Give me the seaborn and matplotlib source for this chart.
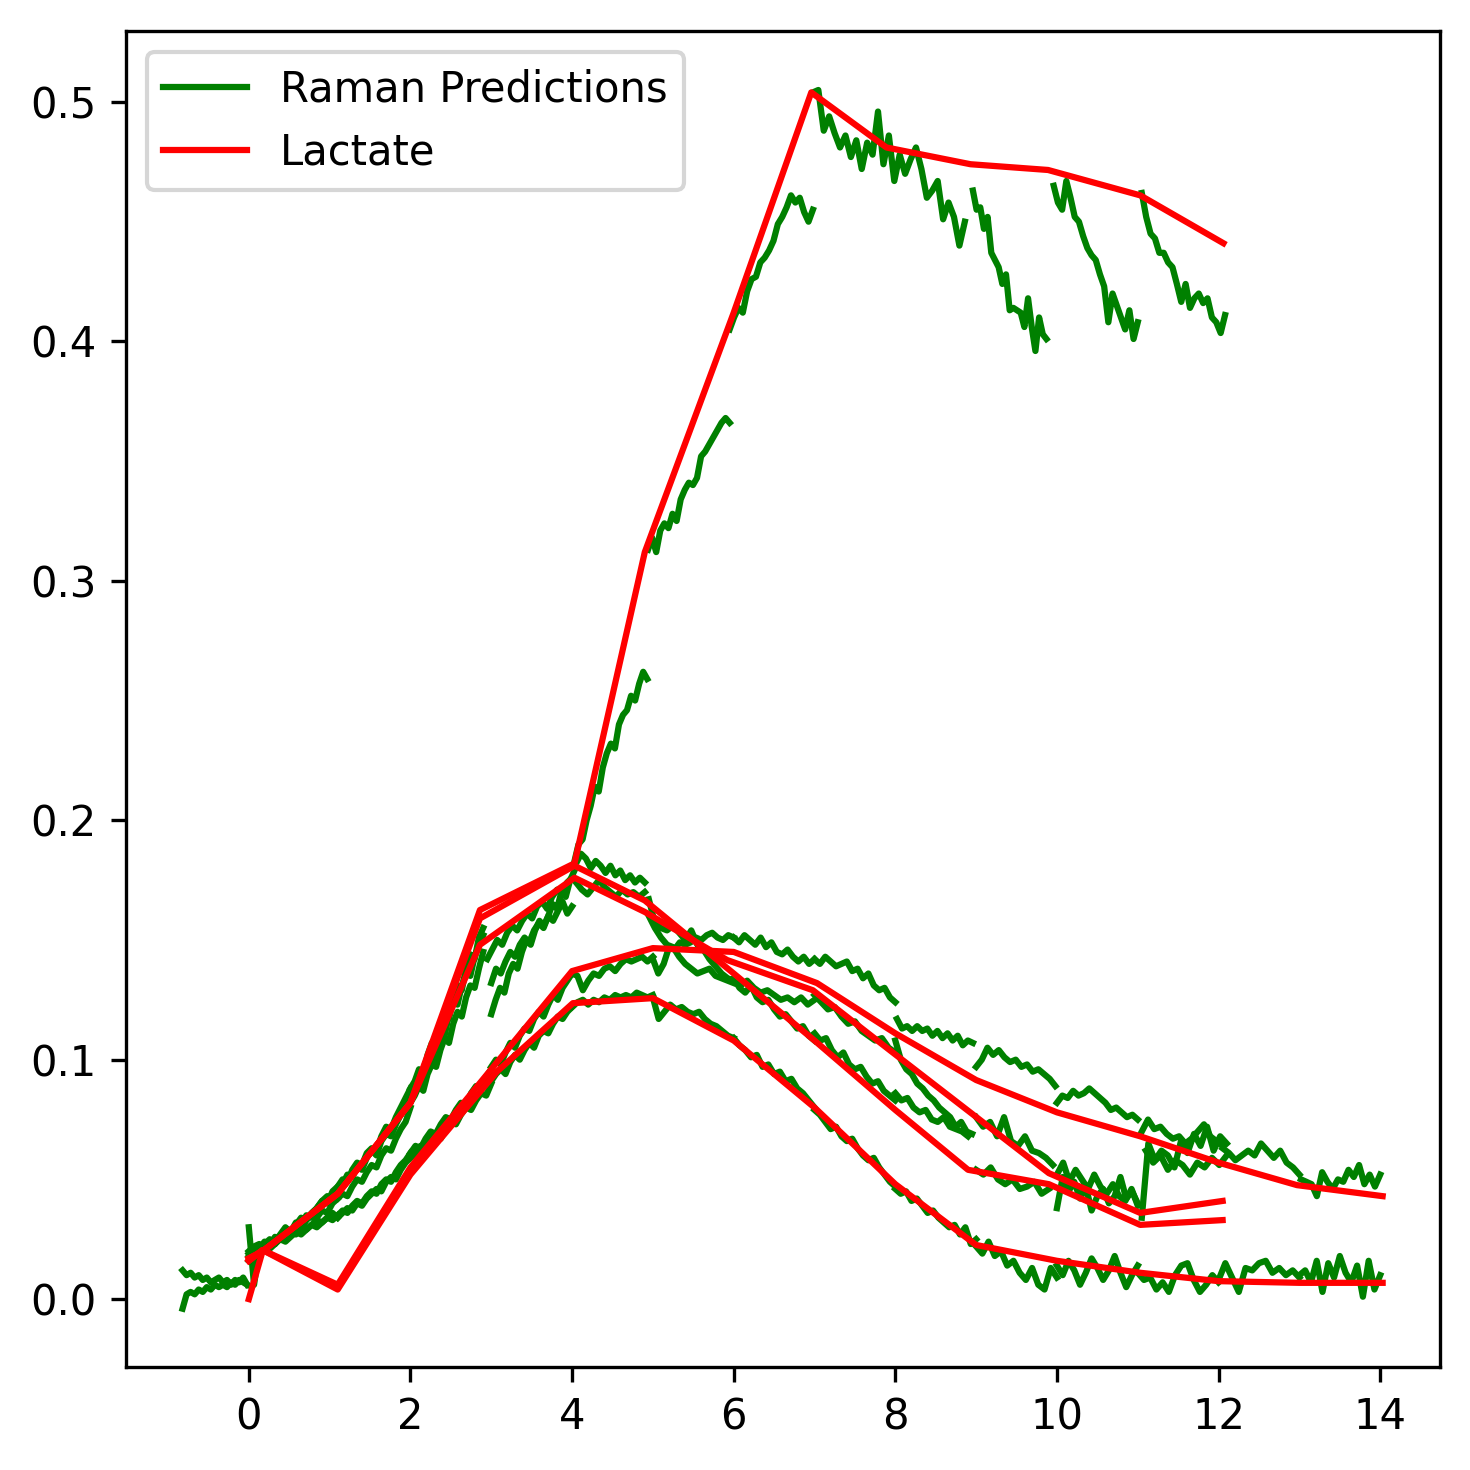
import numpy as np
import pandas as pd
import matplotlib
matplotlib.use('Agg')
import matplotlib.pyplot as plt
import seaborn as sns
from matplotlib.lines import Line2D

# ---- offline lactate (red), one line per batch ----
lac_a_t = [0, 0.17, 1.1, 2.0, 2.86, 4.03, 4.9, 6.0, 6.96, 7.89, 8.93, 9.89, 11.03, 12.06]
lac_a = [0.0, 0.02, 0.044, 0.082, 0.1625, 0.182, 0.312, 0.412, 0.504, 0.481, 0.474, 0.4716, 0.461, 0.441]
lac_b_t = [0, 0.17, 1.1, 2.0, 2.86, 4.03, 4.9, 6.0, 7.0, 8.0, 8.9, 9.9, 11.03, 12.05]
lac_b = [0.017, 0.02, 0.044, 0.082, 0.159, 0.181, 0.1665, 0.136, 0.108, 0.079, 0.054, 0.048, 0.031, 0.033]
lac_c_t = [0, 0.17, 1.1, 2.0, 2.86, 4.03, 4.9, 5.92, 6.98, 7.93, 9.9, 11.03, 12.05]
lac_c = [0.017, 0.02, 0.044, 0.082, 0.148, 0.176, 0.1617, 0.1416, 0.129, 0.104, 0.0526, 0.036, 0.041]
lac_d_t = [0, 0.17, 1.1, 2.0, 4.0, 5.0, 6.0, 7.03, 8.0, 9.0, 10.0, 11.03, 12.0, 12.97, 14.03]
lac_d = [0.016, 0.0205, 0.006, 0.055, 0.137, 0.1466, 0.145, 0.132, 0.111, 0.0915, 0.078, 0.068, 0.057, 0.0476, 0.043]
lac_e_t = [0, 0.17, 1.1, 2.0, 3.07, 4.01, 5.0, 6.0, 7.0, 8.0, 9.0, 10.0, 11.03, 12.0, 13.0, 14.03]
lac_e = [0.016, 0.0205, 0.004, 0.052, 0.095, 0.1236, 0.1257, 0.108, 0.080, 0.048, 0.0226, 0.016, 0.011, 0.0075, 0.0068, 0.0068]

# ---- raman predictions (green): (start day, end day, values) per window ----
raman_pre = [
    (-0.82, -0.02, [0.012, 0.010, 0.011, 0.009, 0.010, 0.008, 0.009, 0.007, 0.008, 0.009, 0.007, 0.008, 0.006, 0.008, 0.007, 0.009, 0.006]),
    (-0.82, -0.02, [-0.004, 0.002, 0.003, 0.002, 0.004, 0.003, 0.005, 0.004, 0.006, 0.005, 0.006, 0.005, 0.007, 0.006, 0.008, 0.007, 0.006]),
]
raman_a = [
    (0.0, 1.1, [0.030, 0.006, 0.021, 0.024, 0.022, 0.026, 0.025, 0.029, 0.028, 0.032, 0.031, 0.035, 0.034, 0.038, 0.041, 0.040, 0.045, 0.047]),
    (1.1, 2.0, [0.047, 0.050, 0.049, 0.054, 0.057, 0.056, 0.061, 0.063, 0.062, 0.068, 0.072, 0.071, 0.076, 0.080, 0.084, 0.088]),
    (2.0, 2.9, [0.088, 0.091, 0.096, 0.094, 0.102, 0.107, 0.105, 0.113, 0.119, 0.117, 0.125, 0.131, 0.129, 0.138, 0.144, 0.142, 0.151, 0.155]),
    (2.95, 4.0, [0.142, 0.146, 0.150, 0.148, 0.153, 0.156, 0.154, 0.158, 0.161, 0.159, 0.164, 0.166, 0.163, 0.168, 0.171, 0.169, 0.174, 0.176]),
    (4.03, 4.93, [0.183, 0.190, 0.192, 0.200, 0.206, 0.214, 0.212, 0.222, 0.228, 0.232, 0.230, 0.240, 0.244, 0.246, 0.252, 0.250, 0.257, 0.262, 0.259]),
    (4.94, 5.95, [0.313, 0.318, 0.312, 0.321, 0.324, 0.322, 0.328, 0.325, 0.334, 0.338, 0.341, 0.340, 0.343, 0.352, 0.354, 0.357, 0.360, 0.363, 0.366, 0.368, 0.366]),
    (5.95, 6.98, [0.405, 0.410, 0.414, 0.412, 0.421, 0.426, 0.427, 0.433, 0.435, 0.438, 0.442, 0.449, 0.452, 0.456, 0.461, 0.458, 0.460, 0.454, 0.450, 0.455]),
    (6.98, 8.86, [0.504, 0.505, 0.488, 0.494, 0.487, 0.481, 0.486, 0.477, 0.484, 0.472, 0.483, 0.478, 0.496, 0.474, 0.486, 0.467,
                  0.478, 0.470, 0.476, 0.481, 0.472, 0.460, 0.463, 0.467, 0.451, 0.458, 0.452, 0.440, 0.450]),
    (8.96, 9.87, [0.463, 0.455, 0.456, 0.447, 0.452, 0.437, 0.434, 0.431, 0.424, 0.428, 0.413, 0.414, 0.413, 0.412, 0.406, 0.418,
                  0.406, 0.396, 0.410, 0.403, 0.401]),
    (9.96, 11.0, [0.465, 0.458, 0.455, 0.467, 0.460, 0.452, 0.450, 0.444, 0.439, 0.436, 0.434, 0.428, 0.423, 0.408, 0.420, 0.415,
                  0.410, 0.405, 0.413, 0.401, 0.408]),
    (11.05, 12.08, [0.462, 0.452, 0.445, 0.443, 0.437, 0.437, 0.433, 0.431, 0.424, 0.4165, 0.424, 0.414, 0.418, 0.420, 0.416, 0.418,
                    0.410, 0.408, 0.4035, 0.411]),
]
raman_b = [
    (0.0, 1.1, [0.018, 0.021, 0.020, 0.023, 0.025, 0.024, 0.027, 0.030, 0.028, 0.031, 0.034, 0.033, 0.036, 0.038, 0.041, 0.043, 0.042, 0.046]),
    (1.1, 2.0, [0.045, 0.048, 0.052, 0.051, 0.055, 0.054, 0.059, 0.062, 0.060, 0.066, 0.069, 0.068, 0.073, 0.077, 0.080, 0.085]),
    (2.0, 2.9, [0.086, 0.090, 0.088, 0.096, 0.101, 0.099, 0.107, 0.112, 0.110, 0.119, 0.124, 0.123, 0.131, 0.136, 0.135, 0.143, 0.148, 0.152]),
    (3.0, 4.03, [0.119, 0.125, 0.130, 0.128, 0.136, 0.140, 0.138, 0.145, 0.150, 0.148, 0.154, 0.158, 0.156, 0.160, 0.165, 0.163,
                 0.170, 0.168, 0.175, 0.179]),
    (4.05, 4.9, [0.182, 0.186, 0.184, 0.180, 0.183, 0.181, 0.178, 0.181, 0.177, 0.179, 0.175, 0.177, 0.174, 0.176, 0.174]),
    (4.95, 6.0, [0.167, 0.157, 0.155, 0.154, 0.156, 0.153, 0.150, 0.154, 0.148, 0.146, 0.142, 0.139, 0.136, 0.134, 0.133]),
    (6.0, 7.0, [0.134, 0.130, 0.128, 0.131, 0.126, 0.124, 0.125, 0.121, 0.118, 0.119, 0.116, 0.113, 0.114, 0.110, 0.108]),
    (7.0, 8.0, [0.111, 0.108, 0.109, 0.104, 0.101, 0.103, 0.098, 0.096, 0.097, 0.093, 0.090, 0.091, 0.087, 0.085, 0.083]),
    (8.0, 8.9, [0.086, 0.083, 0.084, 0.080, 0.078, 0.079, 0.075, 0.074, 0.076, 0.072, 0.071, 0.070, 0.068]),
    (9.0, 9.9, [0.054, 0.052, 0.055, 0.050, 0.048, 0.050, 0.046, 0.047, 0.049, 0.044, 0.046]),
    (10.0, 11.0, [0.038, 0.051, 0.045, 0.049, 0.042, 0.047, 0.037, 0.043, 0.046, 0.040, 0.043, 0.051, 0.042, 0.045, 0.040]),
    (11.05, 12.1, [0.034, 0.065, 0.058, 0.062, 0.060, 0.055, 0.066, 0.061, 0.069, 0.064, 0.072, 0.062, 0.068, 0.065]),
]
raman_c = [
    (0.0, 1.1, [0.016, 0.019, 0.022, 0.021, 0.024, 0.023, 0.026, 0.028, 0.027, 0.030, 0.029, 0.033, 0.035, 0.034, 0.037, 0.036, 0.040, 0.042]),
    (1.1, 2.0, [0.042, 0.044, 0.043, 0.047, 0.050, 0.049, 0.053, 0.056, 0.055, 0.060, 0.063, 0.062, 0.067, 0.071, 0.074, 0.080]),
    (2.0, 2.9, [0.082, 0.085, 0.089, 0.087, 0.094, 0.098, 0.097, 0.104, 0.109, 0.107, 0.115, 0.120, 0.118, 0.126, 0.131, 0.130, 0.138, 0.145]),
    (3.0, 4.0, [0.132, 0.138, 0.136, 0.141, 0.145, 0.143, 0.148, 0.151, 0.149, 0.154, 0.157, 0.155, 0.160, 0.158, 0.162, 0.166, 0.161, 0.164]),
    (4.05, 4.9, [0.174, 0.171, 0.169, 0.172, 0.175, 0.172, 0.170, 0.168, 0.171, 0.169, 0.170, 0.168, 0.170]),
    (4.95, 6.0, [0.160, 0.155, 0.151, 0.148, 0.147, 0.143, 0.140, 0.138, 0.136, 0.137, 0.138, 0.135, 0.134, 0.133, 0.132]),
    (6.0, 7.0, [0.134, 0.131, 0.133, 0.130, 0.128, 0.129, 0.127, 0.125, 0.126, 0.124, 0.126, 0.123, 0.125]),
    (7.0, 8.0, [0.127, 0.124, 0.121, 0.122, 0.118, 0.115, 0.116, 0.112, 0.110, 0.108, 0.109, 0.105, 0.103]),
    (8.0, 8.95, [0.108, 0.100, 0.096, 0.094, 0.090, 0.088, 0.085, 0.083, 0.080, 0.078, 0.076, 0.072, 0.074, 0.070, 0.069]),
    (9.0, 9.95, [0.076, 0.072, 0.074, 0.068, 0.076, 0.066, 0.064, 0.068, 0.062, 0.061, 0.059, 0.056]),
    (10.0, 11.0, [0.052, 0.057, 0.049, 0.054, 0.050, 0.046, 0.052, 0.047, 0.044, 0.048, 0.043, 0.041, 0.046, 0.039]),
    (11.1, 12.1, [0.062, 0.057, 0.060, 0.054, 0.058, 0.056, 0.052, 0.057, 0.055, 0.059, 0.056, 0.060]),
]
raman_d = [
    (0.0, 1.1, [0.019, 0.021, 0.020, 0.022, 0.021, 0.023, 0.025, 0.024, 0.026, 0.028, 0.027, 0.029, 0.031, 0.030, 0.032, 0.034, 0.033, 0.035]),
    (1.1, 2.0, [0.035, 0.037, 0.036, 0.039, 0.041, 0.040, 0.043, 0.045, 0.044, 0.048, 0.050, 0.049, 0.053, 0.056, 0.058, 0.061]),
    (2.0, 3.0, [0.061, 0.064, 0.063, 0.067, 0.070, 0.069, 0.073, 0.076, 0.075, 0.079, 0.082, 0.081, 0.086, 0.089, 0.088, 0.093, 0.096]),
    (3.0, 4.0, [0.097, 0.100, 0.098, 0.103, 0.107, 0.105, 0.110, 0.113, 0.112, 0.117, 0.120, 0.118, 0.123, 0.127, 0.125, 0.130, 0.133, 0.136]),
    (4.0, 5.0, [0.136, 0.135, 0.129, 0.133, 0.136, 0.135, 0.138, 0.139, 0.137, 0.140, 0.142, 0.141, 0.142, 0.143, 0.141, 0.143]),
    (5.0, 6.0, [0.142, 0.136, 0.140, 0.147, 0.146, 0.149, 0.148, 0.149, 0.151, 0.150, 0.152, 0.153, 0.151, 0.150, 0.152, 0.151]),
    (6.0, 7.0, [0.151, 0.149, 0.152, 0.150, 0.148, 0.151, 0.147, 0.149, 0.145, 0.144, 0.146, 0.143, 0.141, 0.143, 0.140, 0.142]),
    (7.0, 8.0, [0.142, 0.140, 0.143, 0.141, 0.139, 0.140, 0.141, 0.137, 0.138, 0.134, 0.136, 0.131, 0.129, 0.130, 0.126, 0.124]),
    (8.02, 8.96, [0.117, 0.113, 0.114, 0.112, 0.114, 0.112, 0.113, 0.110, 0.112, 0.109, 0.111, 0.108, 0.110, 0.106, 0.108, 0.107]),
    (9.0, 9.98, [0.097, 0.100, 0.105, 0.102, 0.104, 0.101, 0.099, 0.100, 0.097, 0.098, 0.095, 0.096, 0.094, 0.092, 0.089]),
    (10.0, 11.0, [0.082, 0.085, 0.084, 0.087, 0.085, 0.086, 0.088, 0.086, 0.084, 0.082, 0.079, 0.080, 0.078, 0.076, 0.077, 0.075]),
    (11.05, 12.05, [0.070, 0.075, 0.071, 0.072, 0.069, 0.067, 0.068, 0.065, 0.067, 0.070, 0.073, 0.068, 0.066, 0.064]),
    (12.05, 13.0, [0.063, 0.061, 0.058, 0.060, 0.062, 0.060, 0.065, 0.062, 0.059, 0.062, 0.057, 0.055, 0.052]),
    (13.02, 14.0, [0.050, 0.049, 0.048, 0.043, 0.053, 0.049, 0.046, 0.050, 0.049, 0.054, 0.051, 0.056, 0.048, 0.052, 0.047, 0.052]),
]
raman_e = [
    (0.0, 1.1, [0.020, 0.022, 0.023, 0.021, 0.024, 0.023, 0.026, 0.025, 0.028, 0.027, 0.030, 0.029, 0.031, 0.033, 0.032, 0.034, 0.036, 0.034]),
    (1.1, 2.0, [0.034, 0.036, 0.038, 0.037, 0.040, 0.039, 0.042, 0.044, 0.046, 0.045, 0.049, 0.051, 0.050, 0.054, 0.057, 0.059]),
    (2.0, 3.0, [0.059, 0.061, 0.064, 0.062, 0.066, 0.069, 0.067, 0.071, 0.074, 0.073, 0.077, 0.080, 0.079, 0.083, 0.086, 0.085, 0.090]),
    (3.0, 4.0, [0.091, 0.094, 0.096, 0.094, 0.099, 0.102, 0.100, 0.104, 0.107, 0.105, 0.110, 0.112, 0.111, 0.115, 0.118, 0.117, 0.120, 0.122]),
    (4.0, 5.0, [0.122, 0.124, 0.125, 0.123, 0.125, 0.124, 0.126, 0.125, 0.127, 0.126, 0.127, 0.126, 0.128, 0.127, 0.126, 0.127]),
    (5.0, 6.0, [0.126, 0.117, 0.120, 0.123, 0.121, 0.122, 0.120, 0.119, 0.120, 0.117, 0.115, 0.114, 0.112, 0.110, 0.109]),
    (6.0, 7.0, [0.109, 0.106, 0.104, 0.101, 0.102, 0.097, 0.098, 0.094, 0.095, 0.091, 0.092, 0.088, 0.086, 0.083, 0.080]),
    (7.0, 8.0, [0.079, 0.077, 0.074, 0.071, 0.072, 0.068, 0.066, 0.067, 0.063, 0.060, 0.058, 0.059, 0.055, 0.052, 0.049, 0.047]),
    (8.0, 9.0, [0.046, 0.044, 0.045, 0.041, 0.042, 0.039, 0.036, 0.037, 0.034, 0.032, 0.030, 0.031, 0.027, 0.030, 0.023, 0.025]),
    (9.0, 10.0, [0.022, 0.019, 0.024, 0.018, 0.020, 0.014, 0.016, 0.011, 0.008, 0.013, 0.006, 0.004, 0.013, 0.009]),
    (10.0, 11.0, [0.014, 0.010, 0.016, 0.012, 0.006, 0.011, 0.017, 0.013, 0.008, 0.012, 0.018, 0.011, 0.005, 0.010, 0.014]),
    (11.0, 12.0, [0.011, 0.008, 0.009, 0.004, 0.007, 0.003, 0.010, 0.014, 0.015, 0.008, 0.003, 0.006, 0.010, 0.007]),
    (12.0, 13.0, [0.008, 0.015, 0.009, 0.003, 0.013, 0.012, 0.015, 0.016, 0.011, 0.013, 0.010, 0.012, 0.009]),
    (13.0, 14.0, [0.010, 0.012, 0.007, 0.016, 0.003, 0.015, 0.009, 0.018, 0.011, 0.007, 0.014, 0.001, 0.016, 0.004, 0.010]),
]

# long tables for seaborn
parts = []
for name, segs in [('pre', raman_pre), ('a', raman_a), ('b', raman_b), ('c', raman_c), ('d', raman_d), ('e', raman_e)]:
    for i, (t0, t1, vals) in enumerate(segs):
        parts.append(pd.DataFrame({'t': np.linspace(t0, t1, len(vals)), 'value': vals, 'seg': f'{name}{i}'}))
raman_df = pd.concat(parts, ignore_index=True)

lac_df = pd.concat([
    pd.DataFrame({'t': t, 'value': v, 'batch': b})
    for b, t, v in [('a', lac_a_t, lac_a), ('b', lac_b_t, lac_b), ('c', lac_c_t, lac_c),
                    ('d', lac_d_t, lac_d), ('e', lac_e_t, lac_e)]
], ignore_index=True)

fig, ax = plt.subplots(figsize=(4.9, 4.9), dpi=300)
fig.subplots_adjust(left=0.0857, right=0.9796, bottom=0.07, top=0.979)

sns.lineplot(data=raman_df, x='t', y='value', units='seg', estimator=None, sort=False,
             color='green', lw=1.5, legend=False, ax=ax)
sns.lineplot(data=lac_df, x='t', y='value', units='batch', estimator=None, sort=False,
             color='red', lw=1.5, legend=False, ax=ax)

ax.set_xlim(-1.52, 14.74)
ax.set_ylim(-0.0284, 0.5297)
ax.set_xlabel('')
ax.set_ylabel('')

handles = [Line2D([], [], color='green', lw=1.5, label='Raman Predictions'),
           Line2D([], [], color='red', lw=1.5, label='Lactate')]
ax.legend(handles=handles, loc='upper left')

plt.savefig('out.png', dpi=300)
